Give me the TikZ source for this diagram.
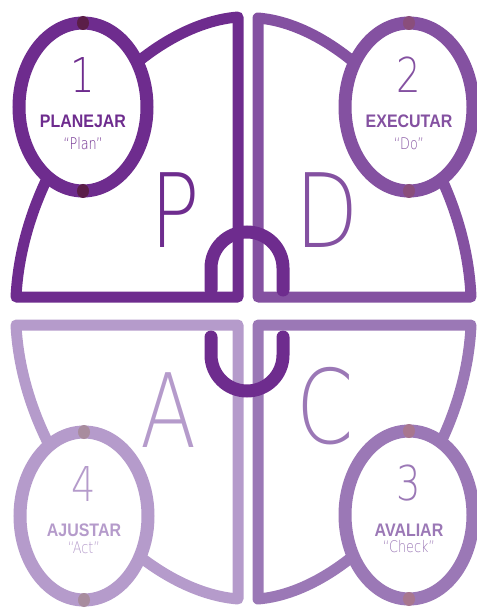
\documentclass[tikz,border=0pt]{standalone}
\usepackage{fontspec}
\setmainfont{Liberation Sans}
\newfontfamily\labf[FakeStretch=0.88]{Liberation Sans}
\newfontfamily\thinf{DejaVu Sans ExtraLight}
\newfontfamily\thinc[FakeStretch=0.8]{DejaVu Sans ExtraLight}
\definecolor{cA}{HTML}{6E2C8E}
\definecolor{cB}{HTML}{8451A1}
\definecolor{cC}{HTML}{9B78B6}
\definecolor{cD}{HTML}{B59BCB}
\definecolor{dA}{HTML}{5B1E48}
\definecolor{dB}{HTML}{8A4E7C}
\definecolor{dC}{HTML}{A8778F}
\definecolor{dD}{HTML}{A88C9E}
\begin{document}
\begin{tikzpicture}[x=0.75pt,y=-0.75pt,
  quad/.style={line width=8.25pt,line join=round},
  arch/.style={line width=9.75pt,line cap=round,draw=cA},
  ring/.style={line width=9.75pt,fill=white},
  num/.style={inner sep=0pt,font=\thinc\fontsize{36}{36}\selectfont},
  lab/.style={inner sep=0pt,font=\labf\bfseries\fontsize{13.6}{14}\selectfont},
  quo/.style={inner sep=0pt,font=\thinc\fontsize{12}{13}\selectfont},
  big/.style={inner sep=0pt,font=\thinc\fontsize{77}{77}\selectfont}]
\useasboundingbox (0,0) rectangle (477,609);
% quadrants
\draw[quad,cA] (238,297) -- (238,17) .. controls (138,25) and (23,157) .. (16,297) -- cycle;
\draw[quad,cB] (258,297) -- (258,18) .. controls (354,26) and (465,157) .. (471,297) -- cycle;
\draw[quad,cD] (238,325) -- (238,599) .. controls (138,591) and (23,462) .. (16,325) -- cycle;
\draw[quad,cC] (258,325) -- (258,599) .. controls (354,591) and (465,462) .. (471,325) -- cycle;
% arches
\draw[arch] (211,290) -- (211,268) arc[start angle=180,end angle=360,radius=36] -- (283,290);
\draw[arch] (211,337) -- (211,355) arc[start angle=180,end angle=0,radius=36] -- (283,337);
% rings
\draw[ring,draw=cA] (83,107) ellipse [x radius=64,y radius=84];
\draw[ring,draw=cB] (409,107) ellipse [x radius=64,y radius=84];
\draw[ring,draw=cC] (409,515) ellipse [x radius=64,y radius=84];
\draw[ring,draw=cD] (84,516) ellipse [x radius=64,y radius=84];
% dots
\fill[dA] (83,23) ellipse [x radius=6,y radius=7];
\fill[dA] (83,191) ellipse [x radius=6,y radius=7];
\fill[dB] (409,23) ellipse [x radius=6,y radius=7];
\fill[dB] (409,191) ellipse [x radius=6,y radius=7];
\fill[dC] (409,431) ellipse [x radius=6,y radius=7];
\fill[dC] (409,599) ellipse [x radius=6,y radius=7];
\fill[dD] (84,432) ellipse [x radius=6,y radius=7];
\fill[dD] (84,600) ellipse [x radius=6,y radius=7];
% texts
\node[num,text=cA] (n1) at (83,75) {1};
\node[lab,text=cA] (l1) at (83,121.5) {PLANEJAR};
\node[quo,text=cA] (q1) at (83,143.5) {“Plan”};
\node[num,text=cB] (n2) at (409,75) {2};
\node[lab,text=cB] (l2) at (409,121.5) {EXECUTAR};
\node[quo,text=cB] (q2) at (409,143.5) {“Do”};
\node[num,text=cC] (n3) at (409,483) {3};
\node[lab,text=cC] (l3) at (409,530) {AVALIAR};
\node[quo,text=cC] (q3) at (409,547) {“Check”};
\node[num,text=cD] (n4) at (84,484) {4};
\node[lab,text=cD] (l4) at (84,530) {AJUSTAR};
\node[quo,text=cD] (q4) at (84,548) {“Act”};
\node[big,text=cA] (P) at (175,210) {P};
\node[big,text=cB] (D) at (327,210) {D};
\node[big,text=cD] (A) at (169,410) {A};
\node[big,text=cC] (C) at (325,406) {C};
\end{tikzpicture}
\end{document}
